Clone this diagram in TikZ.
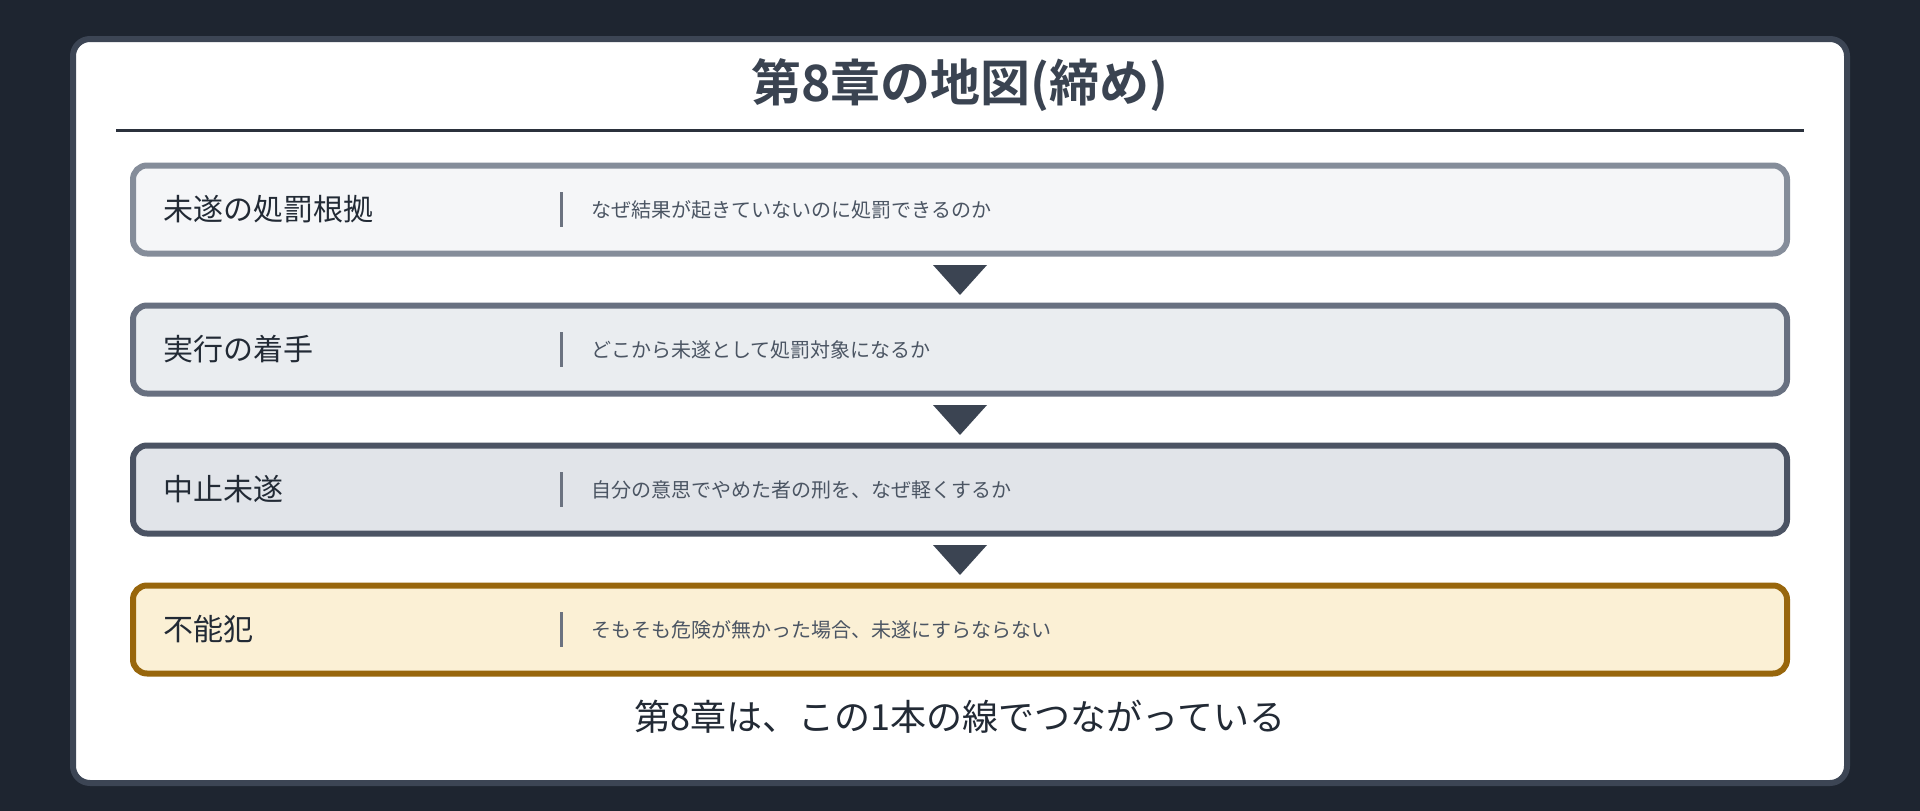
\documentclass[tikz,border=0pt]{standalone}
\usepackage{fontspec}
\setmainfont{Noto Sans CJK JP}[BoldFont={Noto Sans CJK JP Bold}]
\usetikzlibrary{calc}
\definecolor{pagebg}{HTML}{1E2530}
\definecolor{cardedge}{HTML}{3C4554}
\definecolor{titlegray}{HTML}{3A4351}
\definecolor{rulegray}{HTML}{2B313C}
\definecolor{labeltext}{HTML}{222A35}
\definecolor{notetext}{HTML}{4B5563}
\definecolor{dividergray}{HTML}{6B7280}
\definecolor{pointergray}{HTML}{3B4452}
\definecolor{edgeA}{HTML}{858D9A}\definecolor{fillA}{HTML}{F5F6F8}
\definecolor{edgeB}{HTML}{687080}\definecolor{fillB}{HTML}{EAEDF0}
\definecolor{edgeC}{HTML}{4B5363}\definecolor{fillC}{HTML}{E1E4E9}
\definecolor{edgeD}{HTML}{98660C}\definecolor{fillD}{HTML}{FBF0D5}
\tikzset{
	stage/.style={draw, line width=6pt, rounded corners=14pt, minimum width=1654pt, minimum height=88pt, inner sep=0pt},
	stagelabel/.style={anchor=west, inner sep=0pt, text=labeltext, font=\fontsize{30pt}{36pt}\selectfont},
	stagenote/.style={anchor=west, inner sep=0pt, text=notetext, font=\fontsize{20pt}{24pt}\selectfont},
	divider/.style={line width=3pt, draw=dividergray},
	pointer/.style={fill=pointergray},
}
\def\stagedivider(#1){\draw[divider] ($(#1.west)+(431.5,-17.5)$) -- ($(#1.west)+(431.5,17.5)$);}
\def\stagepointer(#1)(#2){\fill[pointer] ($(#1.south)+(-27,8.5)$) -- ($(#1.south)+(27,8.5)$) -- ($(#2.north)+(0,-7.5)$) -- cycle;}

\begin{document}
\begin{tikzpicture}[x=1pt, y=-1pt]
			%%%%% START %%%%%
			
			\fill[pagebg] (0, 0) rectangle (1920, 811);
			\useasboundingbox (0, 0) rectangle (1920, 811);
			\draw[line width=6pt, draw=cardedge, fill=white, rounded corners=17pt] (73, 39) rectangle (1847, 783);
			
			\node[font=\fontsize{50pt}{60pt}\selectfont\bfseries, text=titlegray, inner sep=0pt] (title) at (960, 85) {第8章の地図(締め)};
			\draw[line width=3pt, draw=rulegray] (116, 130) -- (1804, 130);
			
			\node[stage, draw=edgeA, fill=fillA] (grounds) at (960, 209.5) {};
			\node[stagelabel] (groundslabel) at ($(grounds.west)+(33.5,0)$) {未遂の処罰根拠};
			\node[stagenote] (groundsnote) at ($(grounds.west)+(461.5,0)$) {なぜ結果が起きていないのに処罰できるのか};
			\stagedivider(grounds)
			
			\node[stage, draw=edgeB, fill=fillB] (onset) at (960, 349.5) {};
			\node[stagelabel] (onsetlabel) at ($(onset.west)+(33.5,0)$) {実行の着手};
			\node[stagenote] (onsetnote) at ($(onset.west)+(461.5,0)$) {どこから未遂として処罰対象になるか};
			\stagedivider(onset)
			
			\node[stage, draw=edgeC, fill=fillC] (desist) at (960, 489.5) {};
			\node[stagelabel] (desistlabel) at ($(desist.west)+(33.5,0)$) {中止未遂};
			\node[stagenote] (desistnote) at ($(desist.west)+(461.5,0)$) {自分の意思でやめた者の刑を、なぜ軽くするか};
			\stagedivider(desist)
			
			\node[stage, draw=edgeD, fill=fillD] (impossible) at (960, 629.5) {};
			\node[stagelabel] (impossiblelabel) at ($(impossible.west)+(33.5,0)$) {不能犯};
			\node[stagenote] (impossiblenote) at ($(impossible.west)+(461.5,0)$) {そもそも危険が無かった場合、未遂にすらならない};
			\stagedivider(impossible)
			
			\stagepointer(grounds)(onset)
			\stagepointer(onset)(desist)
			\stagepointer(desist)(impossible)
			
			\node[font=\fontsize{36pt}{43pt}\selectfont, text=labeltext, inner sep=0pt] (summary) at (960, 717) {第8章は、この1本の線でつながっている};
			
			%%%%% END %%%%%
\end{tikzpicture}
\end{document}
